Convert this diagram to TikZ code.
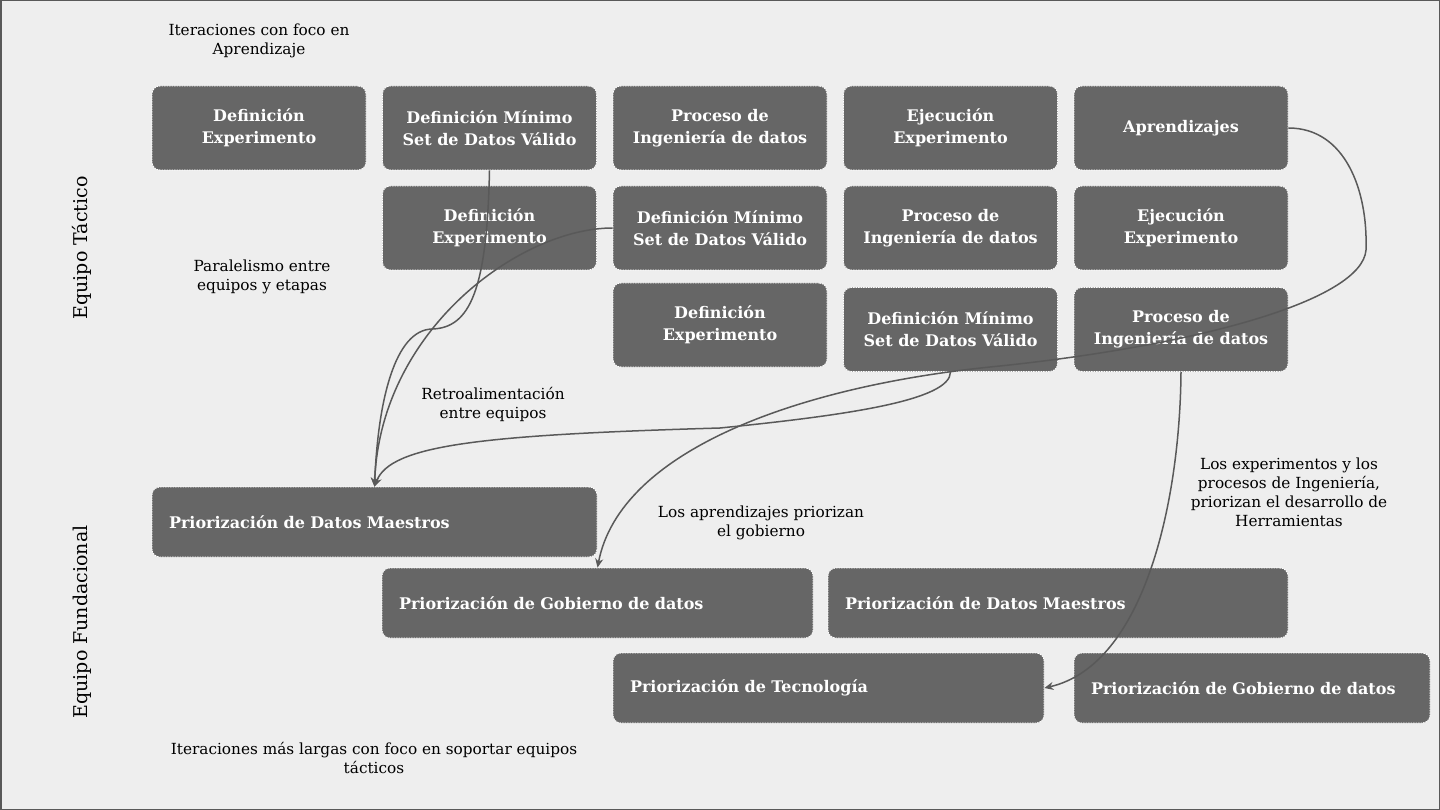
\documentclass[tikz,border=0pt]{standalone}
\usepackage{fontspec}
\setmainfont{DejaVu Serif}
\usetikzlibrary{arrows.meta}
\definecolor{fondo}{HTML}{EEEEEE}
\definecolor{griscaja}{HTML}{666666}
\definecolor{linea}{HTML}{595959}
\begin{document}
\begin{tikzpicture}[x=1pt,y=-1pt,
        etapa/.style={rounded corners=8pt,fill=griscaja,draw=white,line width=0.8pt,
            dash pattern=on 1.5pt off 1pt,text=white,align=center,inner sep=0pt,
            font=\bfseries\fontsize{16}{22}\selectfont,minimum width=214pt,minimum height=84pt},
        prio/.style={rounded corners=8pt,fill=griscaja,draw=white,line width=0.8pt,
            dash pattern=on 1.5pt off 1pt,text=white,align=left,inner xsep=17pt,
            font=\bfseries\fontsize{16}{22}\selectfont,minimum height=70pt},
        nota/.style={align=center,font=\fontsize{15.3}{19}\selectfont},
        flecha/.style={draw=linea,line width=1.5pt,-{Stealth[length=9pt,width=8pt]}}]

    \useasboundingbox (0,0) rectangle (1440,810);
    \draw[fill=fondo,draw=linea,line width=1.5pt] (0.75,0.75) rectangle (1439.25,809.25);

    % equipo tactico
    \node[etapa] (DE1) at (259,128) {Definición\\Experimento};
    \node[etapa] (DM1) at (489.5,128) {Definición Mínimo\\Set de Datos Válido};
    \node[etapa] (PI1) at (720,128) {Proceso de\\Ingeniería de datos};
    \node[etapa] (EE1) at (950.5,128) {Ejecución\\Experimento};
    \node[etapa] (AP1) at (1181,128) {Aprendizajes};

    \node[etapa] (DE2) at (489.5,228) {Definición\\Experimento};
    \node[etapa] (DM2) at (720,228) {Definición Mínimo\\Set de Datos Válido};
    \node[etapa] (PI2) at (950.5,228) {Proceso de\\Ingeniería de datos};
    \node[etapa] (EE2) at (1181,228) {Ejecución\\Experimento};

    \node[etapa] (DE3) at (720,325) {Definición\\Experimento};
    \node[etapa] (DM3) at (950.5,329.5) {Definición Mínimo\\Set de Datos Válido};
    \node[etapa] (PI3) at (1181,329.5) {Proceso de\\Ingeniería de datos};

    % equipo fundacional
    \node[prio,text width=411pt] (PM1) at (374.5,522) {Priorización de Datos Maestros};
    \node[prio,text width=397pt] (PG1) at (597.5,603) {Priorización de Gobierno de datos};
    \node[prio,text width=426pt] (PM2) at (1058,603) {Priorización de Datos Maestros};
    \node[prio,text width=397pt] (PT1) at (828.5,688) {Priorización de Tecnología};
    \node[prio,text width=322pt] (PG2) at (1252,688) {Priorización de Gobierno de datos};

    \node[nota] (N1) at (259,41) {Iteraciones con foco en\\Aprendizaje};
    \node[nota] (N2) at (262,277) {Paralelismo entre\\equipos y etapas};
    \node[nota] (N3) at (493,404) {Retroalimentación\\entre equipos};
    \node[nota] (N4) at (761,523) {Los aprendizajes priorizan\\el gobierno};
    \node[nota] (N5) at (1289,492) {Los experimentos y los\\procesos de Ingeniería,\\priorizan el desarrollo de\\Herramientas};
    \node[nota] (N6) at (374,758) {Iteraciones más largas con foco en soportar equipos\\tácticos};
    \node[nota,font=\fontsize{19}{22}\selectfont,rotate=90] (T1) at (82,248) {Equipo Táctico};
    \node[nota,font=\fontsize{19}{22}\selectfont,rotate=90] (T2) at (82,622) {Equipo Fundacional};

    \draw[flecha] (AP1.east) .. controls (1345,128) and (1368,190) .. (1366,250)
        .. controls (1362,300) and (1200,345) .. (1000,366)
        .. controls (800,385) and (620,450) .. (PG1.north);
    \draw[flecha] (DM3.south) .. controls (950.5,400) and (850,415) .. (720,428)
        .. controls (480,435) and (390,445) .. (PM1.north);
    \draw[flecha] (DM1.south) .. controls (487,290) and (470,328) .. (432,329)
        .. controls (395,330) and (378,400) .. (PM1.north);
    \draw[flecha] (DM2.west) .. controls (520,228) and (380,330) .. (PM1.north);
    \draw[flecha] (PI3.south) .. controls (1180,500) and (1145,665) .. (PT1.east);
\end{tikzpicture}
\end{document}
